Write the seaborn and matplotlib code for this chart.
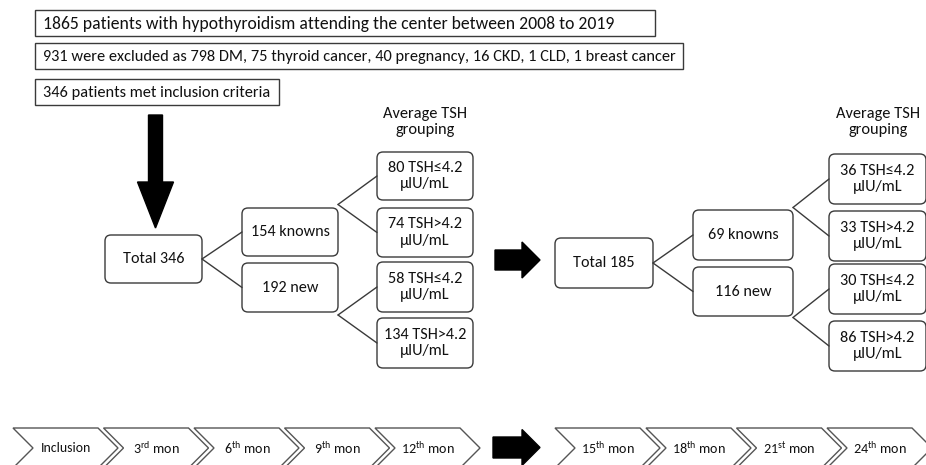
import matplotlib
matplotlib.use("Agg")
from matplotlib import pyplot as plt
from matplotlib.patches import FancyBboxPatch, Polygon, Rectangle
import seaborn as sns

# flow data
screening = [
    "1865 patients with hypothyroidism attending the center between 2008 to 2019",
    "931 were excluded as 798 DM, 75 thyroid cancer, 40 pregnancy, 16 CKD, 1 CLD, 1 breast cancer",
    "346 patients met inclusion criteria",
]
totals = [346, 185]
knowns = [154, 69]
new_cases = [192, 116]
knowns_tsh_low = [80, 36]
knowns_tsh_high = [74, 33]
new_tsh_low = [58, 30]
new_tsh_high = [134, 86]
visits = ["Inclusion", ("3", "rd"), ("6", "th"), ("9", "th"), ("12", "th"),
          ("15", "th"), ("18", "th"), ("21", "st"), ("24", "th")]

sns.set_theme(style="white")
plt.rcParams["font.family"] = ["Carlito", "DejaVu Sans"]

EDGE = "#3a3a3a"
INK = "#111111"
fig = plt.figure(figsize=(9.26, 4.65), dpi=100)
ax = fig.add_axes([0, 0, 1, 1])
ax.set_xlim(0, 926)
ax.set_ylim(465, 0)
ax.axis("off")


def box(x0, y0, x1, y1, text, rounded=True, size=11.6):
    if rounded:
        p = FancyBboxPatch((x0, y0), x1 - x0, y1 - y0,
                           boxstyle="round,pad=0,rounding_size=6",
                           fc="white", ec=EDGE, lw=1.0)
        ax.add_patch(p)
        ax.text((x0 + x1) / 2, (y0 + y1) / 2, text, ha="center", va="center",
                fontsize=size, color=INK, linespacing=1.2)
    else:
        p = Rectangle((x0, y0), x1 - x0, y1 - y0, fc="white", ec=EDGE, lw=1.0)
        ax.add_patch(p)
        ax.text(x0 + 8, (y0 + y1) / 2 + 0.5, text, ha="left", va="center",
                fontsize=size, color=INK)


def line(a, b):
    ax.plot([a[0], b[0]], [a[1], b[1]], color=EDGE, lw=1.0)


def right_arrow(x0, x1, xh, ymid, shaft, head):
    pts = [(x0, ymid - shaft), (xh, ymid - shaft), (xh, ymid - head), (x1, ymid),
           (xh, ymid + head), (xh, ymid + shaft), (x0, ymid + shaft)]
    ax.add_patch(Polygon(pts, closed=True, fc="black", ec="black"))


# screening boxes
top_boxes = [(35, 10, 655, 36), (35, 43, 683, 69), (35, 79, 279, 105)]
top_sizes = [12.7, 11.8, 11.8]
for (x0, y0, x1, y1), t, s in zip(top_boxes, screening, top_sizes):
    box(x0, y0, x1, y1, t, rounded=False, size=s)

# down arrow
cx = 155.5
ax.add_patch(Polygon([(cx - 7, 115), (cx + 7, 115), (cx + 7, 182), (cx + 18, 182),
                      (cx, 228), (cx - 18, 182), (cx - 7, 182)],
                     closed=True, fc="black", ec="black"))

# two cohorts
layouts = [
    dict(tot=(105, 235, 202, 283), kn=(242, 208, 338, 256), nw=(242, 263, 338, 312),
         tx=(377, 473), ty=[(152, 200), (208, 257), (262, 312), (318, 368)], hx=425),
    dict(tot=(555, 238, 653, 288), kn=(693, 210, 793, 260), nw=(693, 267, 793, 316),
         tx=(829, 926), ty=[(154, 204), (211, 261), (264, 314), (321, 371)], hx=878),
]
for i, L in enumerate(layouts):
    tx0, ty0, tx1, ty1 = L["tot"]
    box(tx0, ty0, tx1, ty1, f"Total {totals[i]}")
    kx0, ky0, kx1, ky1 = L["kn"]
    box(kx0, ky0, kx1, ky1, f"{knowns[i]} knowns")
    nx0, ny0, nx1, ny1 = L["nw"]
    box(nx0, ny0, nx1, ny1, f"{new_cases[i]} new")
    tmid = (ty0 + ty1) / 2
    line((tx1, tmid), (kx0, (ky0 + ky1) / 2))
    line((tx1, tmid), (nx0, (ny0 + ny1) / 2))

    labels = [f"{knowns_tsh_low[i]} TSH≤4.2\nµIU/mL", f"{knowns_tsh_high[i]} TSH>4.2\nµIU/mL",
              f"{new_tsh_low[i]} TSH≤4.2\nµIU/mL", f"{new_tsh_high[i]} TSH>4.2\nµIU/mL"]
    gx0, gx1 = L["tx"]
    for (y0, y1), t in zip(L["ty"], labels):
        box(gx0, y0, gx1, y1, t, size=11.7)
    for j, src_x in ((0, kx1), (2, nx1)):
        a, b = L["ty"][j], L["ty"][j + 1]
        by = (a[0] + b[1]) / 2
        line((src_x, by), (gx0, (a[0] + a[1]) / 2))
        line((src_x, by), (gx0, (b[0] + b[1]) / 2))
    ax.text(L["hx"], 122, "Average TSH\ngrouping", ha="center", va="center",
            fontsize=11.8, color=INK, linespacing=1.2)

# middle arrow between cohorts
right_arrow(495, 540, 522, 260, 10, 18)

# timeline chevrons
starts = [13, 103.5, 194, 284.5, 375, 555, 646, 736.5, 827]
for x, v in zip(starts, visits):
    pts = [(x, 428), (x + 85, 428), (x + 105, 448), (x + 85, 468), (x, 468), (x + 20, 448)]
    ax.add_patch(Polygon(pts, closed=True, fc="white", ec="#555555", lw=1.0))
    if isinstance(v, tuple):
        label = v[0] + r"$^{\mathregular{" + v[1] + r"}}$ mon"
        fs = 10.2
    else:
        label = v
        fs = 9.9
    ax.text(x + 53, 448, label, ha="center", va="center", fontsize=fs, color=INK)

right_arrow(493, 540, 522, 447.5, 10.5, 18)

fig.savefig("out.png", dpi=100)
